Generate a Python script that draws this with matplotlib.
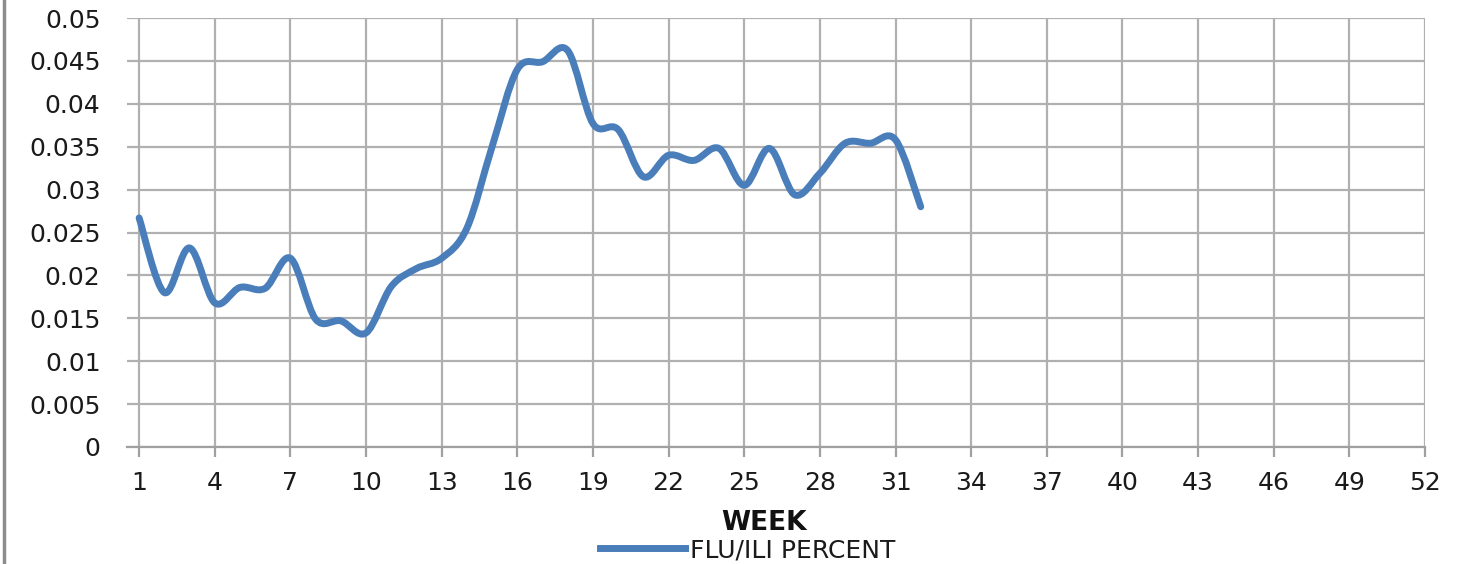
import matplotlib
matplotlib.use("Agg")
import matplotlib.pyplot as plt
from matplotlib.path import Path
from matplotlib.patches import PathPatch
from matplotlib.lines import Line2D
import numpy as np

weeks = list(range(1, 33))
flu_ili = [0.0267, 0.0180, 0.0232, 0.0168, 0.0186, 0.0185, 0.0220, 0.0149,
           0.0147, 0.0133, 0.0187, 0.0208, 0.0220, 0.0255, 0.0350, 0.0440,
           0.0449, 0.0462, 0.0377, 0.0370, 0.0315, 0.0340, 0.0334, 0.0348,
           0.0305, 0.0348, 0.0294, 0.0319, 0.0354, 0.0354, 0.0358, 0.0280]
xticks = list(range(1, 53, 3))
yticks = [0, 0.005, 0.01, 0.015, 0.02, 0.025, 0.03, 0.035, 0.04, 0.045, 0.05]
ytick_labels = ["0", "0.005", "0.01", "0.015", "0.02", "0.025", "0.03",
                "0.035", "0.04", "0.045", "0.05"]
series_name = "FLU/ILI PERCENT"
x_title = "WEEK"

W, H = 1467, 564
fig = plt.figure(figsize=(W / 100, H / 100), dpi=100)
ax = fig.add_axes([127 / W, 1 - 447 / H, (1425 - 127) / W, (447 - 18) / H])

line_color = "#4A7EBB"
grid_color = "#B0B0B0"

# smooth (Catmull-Rom style) curve through the data, as Excel's smoothed line
x = np.array(weeks, dtype=float)
y = np.array(flu_ili, dtype=float)
verts = [(x[0], y[0])]
codes = [Path.MOVETO]
n = len(x)
for i in range(n - 1):
    p0 = np.array([x[max(i - 1, 0)], y[max(i - 1, 0)]])
    p1 = np.array([x[i], y[i]])
    p2 = np.array([x[i + 1], y[i + 1]])
    p3 = np.array([x[min(i + 2, n - 1)], y[min(i + 2, n - 1)]])
    c1 = p1 + (p2 - p0) / 6.0
    c2 = p2 - (p3 - p1) / 6.0
    verts += [tuple(c1), tuple(c2), tuple(p2)]
    codes += [Path.CURVE4] * 3
patch = PathPatch(Path(verts, codes), facecolor="none", edgecolor=line_color,
                  lw=5, capstyle="round", joinstyle="round", zorder=3)
ax.add_patch(patch)

ax.set_xlim(0.52, 52)
ax.set_ylim(0, 0.05)
ax.set_xticks(xticks)
ax.set_xticklabels([str(t) for t in xticks])
ax.set_yticks(yticks)
ax.set_yticklabels(ytick_labels)
ax.grid(True, color=grid_color, lw=1.6)
ax.set_axisbelow(True)
for s in ["top", "right", "left"]:
    ax.spines[s].set_visible(False)
ax.spines["bottom"].set_color("#A0A0A0")
ax.spines["bottom"].set_linewidth(1.6)
ax.tick_params(axis="x", length=7, width=1.6, color="#A0A0A0", pad=10,
               labelsize=18, labelcolor="#1A1A1A")
ax.tick_params(axis="y", length=0, pad=19, labelsize=18, labelcolor="#1A1A1A")

fig.text(764 / W, 1 - 523 / H, x_title, ha="center", va="center",
         fontsize=19, fontweight="bold", color="#111111")

handle = Line2D([], [], color=line_color, lw=5)
fig.legend([handle], [series_name], loc="center",
           bbox_to_anchor=(748 / W, 1 - 550 / H), frameon=False,
           fontsize=18, handlelength=3.4, handletextpad=0.2,
           borderpad=0, labelcolor="#1A1A1A")

fig.add_artist(Line2D([4 / W, 4 / W], [0, 1], color="#8C8C8C", lw=2.5,
                      transform=fig.transFigure))

fig.savefig("out.png", dpi=100)
